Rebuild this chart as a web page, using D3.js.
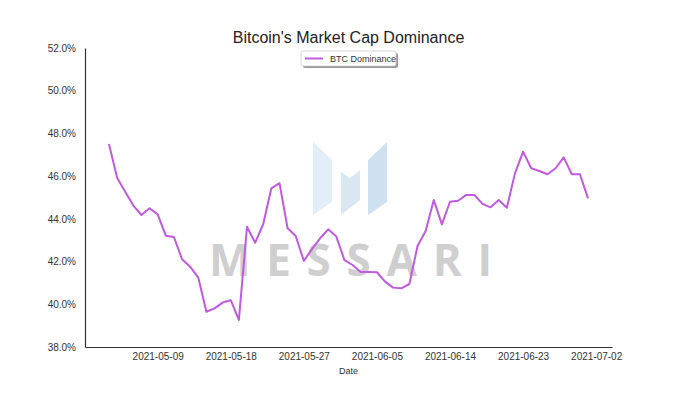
<!DOCTYPE html>
<html>
<head>
<meta charset="utf-8">
<script src="https://cdn.jsdelivr.net/npm/d3@7"></script>
<style>
  body { margin: 0; background: #fff; }
  svg { font-family: "Liberation Sans", Arial, sans-serif; }
  .axis .domain { stroke: #333; stroke-width: 1.2px; }
  .axis .tick line { display: none; }
  .axis .tick text { fill: #333; font-size: 10px; }
</style>
</head>
<body>
<div id="chart"></div>
<script>
// daily BTC dominance, 2021-05-03 .. 2021-07-01
const startDate = "2021-05-03";
const dominance = [
  47.50, 45.93, 45.27, 44.62, 44.18, 44.50, 44.21, 43.21, 43.15, 42.11,
  41.76, 41.25, 39.65, 39.81, 40.08, 40.19, 39.27, 43.63, 42.88, 43.76,
  45.43, 45.67, 43.56, 43.20, 42.03, 42.58, 43.09, 43.51, 43.17, 42.07,
  41.84, 41.51, 41.51, 41.50, 41.06, 40.78, 40.75, 40.95, 42.73, 43.43,
  44.88, 43.74, 44.80, 44.85, 45.12, 45.12, 44.70, 44.54, 44.88, 44.52,
  46.13, 47.15, 46.37, 46.24, 46.09, 46.37, 46.88, 46.09, 46.09, 44.96
];
const xTicks = ["2021-05-09", "2021-05-18", "2021-05-27", "2021-06-05", "2021-06-14", "2021-06-23", "2021-07-02"];
const yTicks = [38, 40, 42, 44, 46, 48, 50, 52];

const parseDate = d3.utcParse("%Y-%m-%d");
const fmtDate = d3.utcFormat("%Y-%m-%d");
const data = dominance.map((v, i) => ({ date: d3.utcDay.offset(parseDate(startDate), i), value: v }));

let width = 680, height = 397;
let margin = { top: 48, right: 68, bottom: 50, left: 85 };
let innerW = width - margin.left - margin.right;
let innerH = height - margin.top - margin.bottom;

let svg = d3.select("#chart").append("svg")
  .attr("width", width)
  .attr("height", height);

let g = svg.append("g")
  .attr("transform", `translate(${margin.left}, ${margin.top})`);

/* x domain padded by 5% like matplotlib */
let ext = d3.extent(data, d => d.date);
let pad = (ext[1] - ext[0]) * 0.05;
let x = d3.scaleUtc()
  .domain([new Date(+ext[0] - pad), new Date(+ext[1] + pad)])
  .range([0, innerW]);

let y = d3.scaleLinear().domain([38, 52]).range([innerH, 0]);

/* watermark */
let wm = g.append("g").attr("class", "watermark");
const logoShapes = [
  { pts: [[313, 142], [332, 160], [332, 202], [313, 215]], color: "#e2edf7" },
  { pts: [[341, 172], [350, 178], [360, 170], [360, 200], [341, 215]], color: "#d9e7f3" },
  { pts: [[368, 160], [387, 142], [387, 202], [368, 215]], color: "#cfe0f0" }
];
wm.selectAll("polygon")
  .data(logoShapes).enter()
  .append("polygon")
  .attr("transform", `translate(${-margin.left}, ${-margin.top})`)
  .attr("points", d => d.pts.map(p => p.join(",")).join(" "))
  .attr("fill", d => d.color);

wm.append("text")
  .attr("x", 209 - margin.left)
  .attr("y", 276 - margin.top)
  .attr("textLength", 283)
  .attr("lengthAdjust", "spacing")
  .style("font-family", "'Open Sans', 'Liberation Sans', sans-serif")
  .style("font-weight", "bold")
  .style("font-size", "44px")
  .style("fill", "#cfcfcf")
  .text("MESSARI");

/* axes */
let xAxis = d3.axisBottom(x)
  .tickValues(xTicks.map(parseDate))
  .tickFormat(fmtDate)
  .tickSize(0)
  .tickPadding(6);
let yAxis = d3.axisLeft(y)
  .tickValues(yTicks)
  .tickFormat(d => d.toFixed(1) + "%")
  .tickSize(0)
  .tickPadding(9);

g.append("g")
  .attr("class", "x axis")
  .attr("transform", `translate(0, ${innerH})`)
  .call(xAxis)
  .append("text")
  .attr("x", innerW / 2)
  .attr("y", 27)
  .attr("fill", "#333")
  .attr("text-anchor", "middle")
  .style("font-size", "9px")
  .text("Date");

g.append("g")
  .attr("class", "y axis")
  .call(yAxis);

/* line */
let line = d3.line()
  .x(d => x(d.date))
  .y(d => y(d.value));

g.append("path")
  .datum(data)
  .attr("fill", "none")
  .attr("stroke", "#c05ade")
  .attr("stroke-width", 2)
  .attr("stroke-linejoin", "round")
  .attr("d", line);

/* title */
svg.append("text")
  .attr("x", margin.left + innerW / 2)
  .attr("y", 43)
  .attr("text-anchor", "middle")
  .style("font-size", "16px")
  .style("fill", "#222")
  .text("Bitcoin's Market Cap Dominance");

/* legend */
let lg = svg.append("g").attr("transform", "translate(301, 51)");
lg.append("rect")
  .attr("x", 2).attr("y", 2)
  .attr("width", 95).attr("height", 15)
  .attr("rx", 2)
  .attr("fill", "#999");
lg.append("rect")
  .attr("width", 95).attr("height", 15)
  .attr("rx", 2)
  .attr("fill", "#fff")
  .attr("stroke", "#ccc")
  .attr("stroke-width", 0.8);
lg.append("line")
  .attr("x1", 4).attr("x2", 22)
  .attr("y1", 7.5).attr("y2", 7.5)
  .attr("stroke", "#c05ade")
  .attr("stroke-width", 2);
lg.append("text")
  .attr("x", 29).attr("y", 11)
  .style("font-size", "9px")
  .style("fill", "#333")
  .text("BTC Dominance");
</script>
</body>
</html>
